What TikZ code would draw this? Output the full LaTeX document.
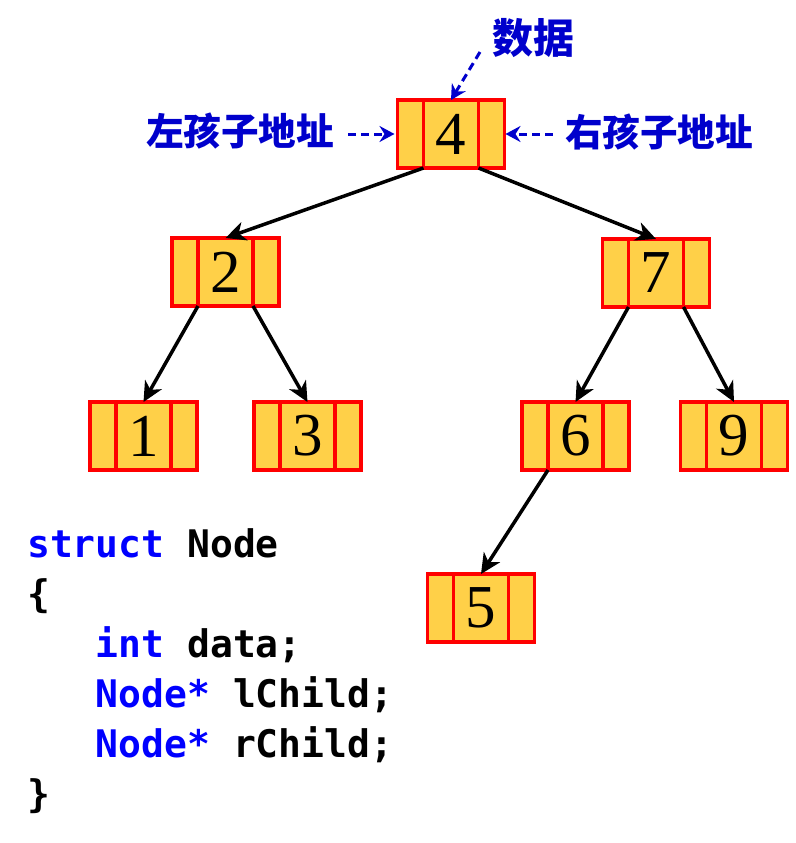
\documentclass[tikz,border=0pt]{standalone}
\usepackage{fontspec}
\usetikzlibrary{positioning,arrows.meta}
\newfontfamily\cjkfont{Noto Sans CJK SC}
\newfontfamily\numfont{Liberation Serif}
\newfontfamily\codefont{DejaVu Sans Mono}
\definecolor{cellfill}{RGB}{255,208,72}
\definecolor{hintblue}{RGB}{0,0,204}
\definecolor{kwblue}{RGB}{0,0,255}
\newcommand{\kw}[1]{\textcolor{kwblue}{#1}}
\begin{document}
\begin{tikzpicture}[x=1pt, y=-1pt,
    keycell/.style={draw=red, fill=cellfill, line width=3.5pt, minimum width=55pt, minimum height=68pt,
        inner sep=0pt, outer sep=0pt, font=\numfont\fontsize{61}{61}\selectfont},
    ptrcell/.style={draw=red, fill=cellfill, line width=3.5pt, minimum width=26pt, minimum height=68pt,
        inner sep=0pt, outer sep=0pt},
    child/.style={line width=3.5pt, -{Stealth[length=20pt, width=19pt, inset=6pt]}},
    hint/.style={hintblue, line width=3pt, dash pattern=on 8pt off 5pt,
        -{Stealth[length=15pt, width=16pt, inset=5pt]}},
    hinttext/.style={hintblue, inner sep=0pt, font=\cjkfont\bfseries\fontsize{37.6}{40}\selectfont}]
    \useasboundingbox (0,0) rectangle (795,843);
    % Tree nodes
    \foreach \k/\x/\y in {4/451/134, 2/225.5/272, 7/656/273, 1/143.5/436, 3/307.5/436, 6/575.5/436, 9/734/436, 5/481/608} {
        \node[keycell] (n\k) at (\x,\y) {\k};
        \node[ptrcell, left=0pt of n\k] (l\k) {};
        \node[ptrcell, right=0pt of n\k] (r\k) {};
    }
    % Child links
    \foreach \p/\c/\a in {4/2/south west, 4/7/south east, 2/1/south west, 2/3/south east, 7/6/south west, 7/9/south east, 6/5/south west} {
        \draw[child] (n\p.\a) -- (n\c.north);
    }
    % Field labels
    \node[hinttext, font=\cjkfont\bfseries\fontsize{41}{44}\selectfont] (datatext) at (533,38) {数据};
    \node[hinttext] (ltext) at (240,131) {左孩子地址};
    \node[hinttext] (rtext) at (659,132) {右孩子地址};
    \coordinate (datatail) at (480,52);
    \draw[hint] (datatail) -- (n4.north);
    \draw[hint, shorten <=14pt, shorten >=3pt] (ltext.east |- l4.west) -- (l4.west);
    \draw[hint, shorten <=12pt, shorten >=1pt] (rtext.west |- r4.east) -- (r4.east);
    % Struct code
    \node[anchor=base west, align=left, inner sep=0pt, font=\codefont\bfseries\fontsize{38}{50}\selectfont] (code) at (27,807)
        {\kw{struct} Node\\ \{\\ \phantom{xxx}\kw{int} data;\\ \phantom{xxx}\kw{Node*} lChild;\\ \phantom{xxx}\kw{Node*} rChild;\\ \}};
\end{tikzpicture}
\end{document}
